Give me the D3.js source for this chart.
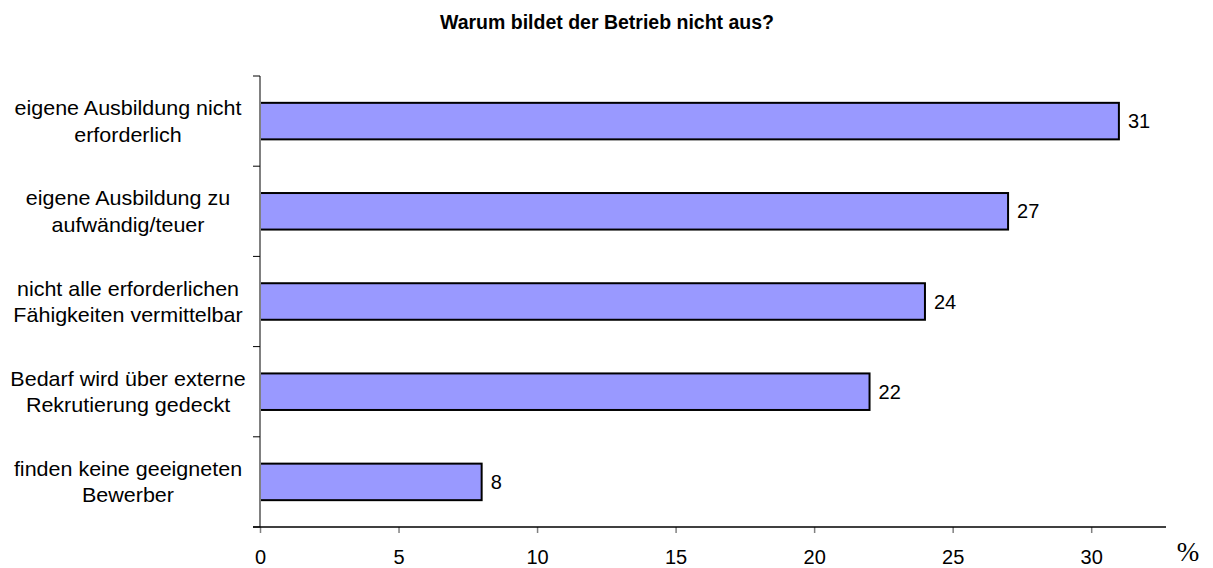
<!DOCTYPE html>
<html><head><meta charset="utf-8">
<script src="https://cdn.jsdelivr.net/npm/d3@7"></script>
<style>body{margin:0;background:#fff}svg{display:block}text{font-family:"Liberation Sans",Arial,sans-serif}</style>
</head><body>
<svg id="c" width="1213" height="568"></svg>
<script>
const title = "Warum bildet der Betrieb nicht aus?";
const categories = [
  ["eigene Ausbildung nicht", "erforderlich"],
  ["eigene Ausbildung zu", "aufwändig/teuer"],
  ["nicht alle erforderlichen", "Fähigkeiten vermittelbar"],
  ["Bedarf wird über externe", "Rekrutierung gedeckt"],
  ["finden keine geeigneten", "Bewerber"]
];
const values = [31, 27, 24, 22, 8];
const xTicks = [0, 5, 10, 15, 20, 25, 30];
const unitLabel = "%";

const svg = d3.select("#c");
const mLeft = 260, mRight = 1166, mTop = 76, mBottom = 527;
const x = d3.scaleLinear().domain([0, 32.7]).range([mLeft, mRight]);
const keys = categories.map((d, i) => i);
const y = d3.scaleBand().domain(keys).range([mTop, mBottom]).paddingInner(0.595).paddingOuter(0.2975);
const step = y.step();

svg.append("text").attr("x", 607).attr("y", 29).attr("text-anchor", "middle")
  .attr("font-weight", "bold").attr("font-size", 19.5).text(title);

// bars
svg.selectAll("rect.bar").data(values).enter().append("rect")
  .attr("x", x(0)).attr("y", (d, i) => y(i))
  .attr("width", d => x(d) - x(0)).attr("height", y.bandwidth())
  .attr("fill", "#9999FF").attr("stroke", "#000").attr("stroke-width", 2);

// y axis (grey) with ticks at band boundaries
svg.append("line").attr("x1", mLeft).attr("x2", mLeft).attr("y1", mTop).attr("y2", mBottom)
  .attr("stroke", "#808080").attr("stroke-width", 2);
d3.range(categories.length + 1).forEach(i => {
  const yy = mTop + i * step;
  svg.append("line").attr("x1", mLeft - 7).attr("x2", mLeft).attr("y1", yy).attr("y2", yy)
    .attr("stroke", "#000").attr("stroke-width", 1);
});

// x axis
const xAxis = d3.axisBottom(x).tickValues(xTicks).tickSize(6).tickPadding(17).tickFormat(d3.format("d"));
const gx = svg.append("g").attr("transform", `translate(0,${mBottom})`).call(xAxis);
gx.select(".domain").remove();
gx.selectAll(".tick line").attr("stroke", "#808080").attr("stroke-width", 1.5);
gx.selectAll(".tick text").attr("font-size", 20).attr("fill", "#000")
  .attr("font-family", "'Liberation Sans',Arial,sans-serif");
svg.append("line").attr("x1", mLeft - 7).attr("x2", mRight).attr("y1", mBottom).attr("y2", mBottom)
  .attr("stroke", "#000").attr("stroke-width", 1.5);

svg.append("text").attr("x", 1188).attr("y", 561).attr("text-anchor", "middle")
  .attr("font-size", 27).style("font-family", "'Liberation Serif','Times New Roman',serif").text(unitLabel);

// category labels
categories.forEach((lines, i) => {
  const cy = y(i) + y.bandwidth() / 2;
  const t = svg.append("text").attr("text-anchor", "middle").attr("font-size", 20).attr("fill", "#000")
    .attr("transform", `translate(128,${cy}) scale(1.075,1)`);
  lines.forEach((ln, j) => {
    t.append("tspan").attr("x", 0).attr("y", -6 + j * 26.5).text(ln);
  });
});

// value labels
svg.selectAll("text.val").data(values).enter().append("text")
  .attr("x", d => x(d) + 9).attr("y", (d, i) => y(i) + y.bandwidth() / 2 + 7)
  .attr("font-size", 20).text(d => d);
</script>
</body></html>
